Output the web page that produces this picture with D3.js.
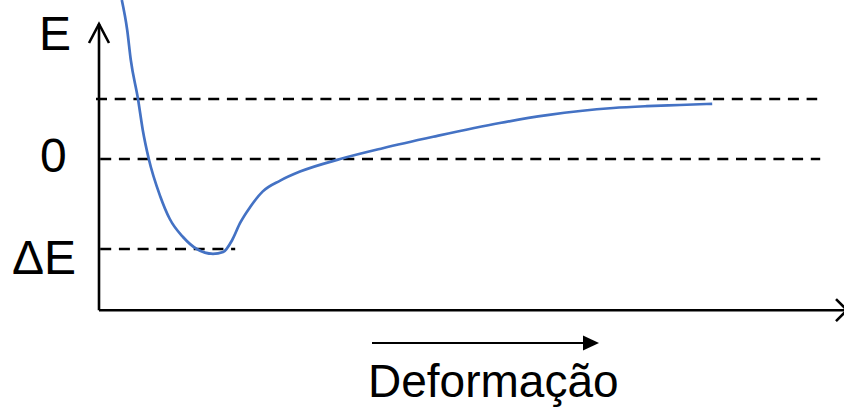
<!DOCTYPE html>
<html>
<head>
<meta charset="utf-8">
<script src="https://cdn.jsdelivr.net/npm/d3@7"></script>
<style>
  html, body { margin: 0; padding: 0; background: #fff; }
  svg { display: block; }
  text { font-family: "Liberation Sans", Arial, sans-serif; fill: #000; }
</style>
</head>
<body>
<svg id="chart" width="844" height="409"></svg>
<script>
// Curve: deformation (x) vs energy (E)
const deformation = [0.38, 0.47, 0.53, 0.65, 0.73, 0.83, 1.02, 1.18, 1.40, 1.63, 1.90, 2.07, 2.22, 2.35, 2.52, 2.73, 3.02, 3.35, 4.02, 4.73, 5.57, 6.68, 7.47, 8.02, 8.57, 9.13, 9.68, 10.22];
const energy      = [2.65, 2.15, 1.65, 1.00, 0.48, 0.00, -0.62, -1.00, -1.30, -1.50, -1.58, -1.55, -1.35, -1.07, -0.80, -0.54, -0.36, -0.21, 0.00, 0.18, 0.37, 0.60, 0.73, 0.80, 0.85, 0.88, 0.90, 0.92];

// Reference levels (dashed lines): value and horizontal extent
const levelValues = [1, 0, -1.5];
const levelEnds   = [11.97, 12.02, 2.27];
// Axis labels
const yLabels      = ["E", "0", "ΔE"];
const yLabelValues = [2.25, 0, -1.5];
const xLabel = "Deformação";

const svg = d3.select("#chart");
const x = d3.scaleLinear().domain([0, 12.4]).range([99, 843]);
const y = d3.scaleLinear().domain([-2.5, 2.5]).range([309, 9]);

const xAxisE = -2.52, yAxisTopE = 2.25;

// dashed levels
svg.selectAll("line.level").data(levelValues).join("line")
  .attr("class", "level")
  .attr("x1", (d, i) => i === 0 ? x(-0.05) : x(0.02))
  .attr("x2", (d, i) => x(levelEnds[i]))
  .attr("y1", d => y(d)).attr("y2", d => y(d))
  .attr("stroke", "#000").attr("stroke-width", 2.6)
  .attr("stroke-dasharray", "11,7.7");

// axes
svg.append("line")
  .attr("x1", x(0)).attr("x2", x(0))
  .attr("y1", y(xAxisE)).attr("y2", y(yAxisTopE))
  .attr("stroke", "#000").attr("stroke-width", 2.6);
svg.append("line")
  .attr("x1", x(0)).attr("x2", 846)
  .attr("y1", y(xAxisE)).attr("y2", y(xAxisE))
  .attr("stroke", "#000").attr("stroke-width", 2.6);
// open arrowheads
const ty = y(yAxisTopE);
svg.append("path")
  .attr("d", `M${x(0) - 10},${ty + 19} L${x(0)},${ty} L${x(0) + 10},${ty + 19}`)
  .attr("fill", "none").attr("stroke", "#000").attr("stroke-width", 2.6);
const ay = y(xAxisE);
svg.append("path")
  .attr("d", `M836,${ay - 11} L847,${ay} L836,${ay + 11}`)
  .attr("fill", "none").attr("stroke", "#000").attr("stroke-width", 2.6);

// curve
const pts = deformation.map((d, i) => [d, energy[i]]);
const line = d3.line().x(d => x(d[0])).y(d => y(d[1])).curve(d3.curveMonotoneX);
svg.append("path").datum(pts)
  .attr("d", line)
  .attr("fill", "none").attr("stroke", "#4472C4").attr("stroke-width", 2.7)
  .attr("stroke-linecap", "butt");

// y labels
const labelX = [39, 40, 12];
svg.selectAll("text.ylab").data(yLabels).join("text")
  .attr("class", "ylab")
  .attr("x", (d, i) => labelX[i])
  .attr("y", (d, i) => y(yLabelValues[i]) + [26, 13, 25][i])
  .attr("font-size", 48)
  .text(d => d);

// deformation arrow + label
svg.append("line")
  .attr("x1", 372).attr("x2", 585).attr("y1", 343).attr("y2", 343)
  .attr("stroke", "#000").attr("stroke-width", 2);
svg.append("path")
  .attr("d", "M583,335.5 L599,343 L583,350.5 Z").attr("fill", "#000");
svg.append("text")
  .attr("x", 368).attr("y", 397)
  .attr("font-size", 46)
  .text(xLabel);
</script>
</body>
</html>
